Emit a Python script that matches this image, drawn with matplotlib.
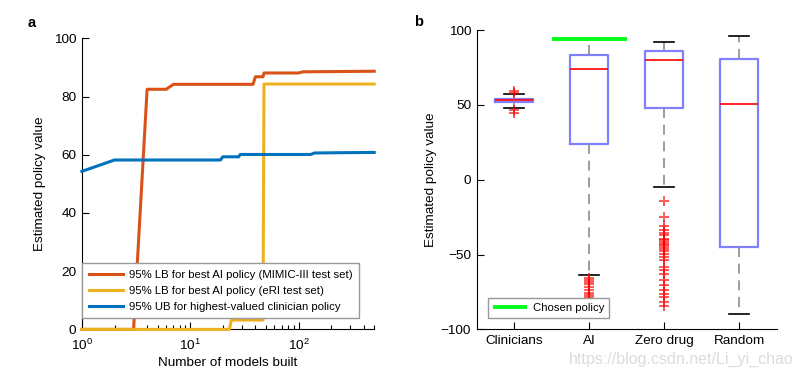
import numpy as np
import matplotlib
matplotlib.use('Agg')
import matplotlib.pyplot as plt
from matplotlib.ticker import LogLocator, NullFormatter

# ---- data ----
# panel a: estimated policy value vs number of models built
mimic_x = [1, 3, 4, 6, 7, 38, 40, 47, 48, 100, 110, 500]
mimic_y = [0, 0, 82.5, 82.5, 84.2, 84.2, 86.8, 86.8, 88.1, 88.1, 88.5, 88.7]
eri_x = [1, 23, 24, 47, 48, 500]
eri_y = [0, 0, 3.2, 3.2, 84.3, 84.3]
clin_x = [1, 2, 19, 20, 28, 29, 130, 140, 230, 500]
clin_y = [54.3, 58.2, 58.2, 59.3, 59.3, 60.1, 60.1, 60.6, 60.7, 60.8]

labels_a = ['95% LB for best AI policy (MIMIC-III test set)',
            '95% LB for best AI policy (eRI test set)',
            '95% UB for highest-valued clinician policy']

# panel b: box plot summaries
groups = ['Clinicians', 'AI', 'Zero drug', 'Random']
q1 = [51.7, 23.8, 48.1, -45.2]
med = [53.0, 74.2, 80.2, 50.5]
q3 = [54.1, 83.1, 85.9, 80.4]
whis_lo = [48.1, -63.5, -4.7, -89.5]
whis_hi = [57.5, 93.8, 92.0, 96.2]
fliers = [
    [59.2, 58.0, 46.3, 44.5],
    [-66, -67, -68.5, -70, -72, -74, -75.5, -77, -78.5],
    [-13.9, -24.6, -31.2, -33.9, -35.7, -37.2, -39.4, -40.6, -41.7, -42.8,
     -43.9, -45.0, -46.1, -47.7, -49.5, -51.7, -53.9, -58.4, -60.1, -62.8,
     -66.8, -70.6, -74.0, -76.2, -78.5, -81.8, -84.7],
    [],
]
chosen_value = 93.8

# ---- style ----
plt.rcParams['font.family'] = ['Liberation Sans', 'DejaVu Sans']
plt.rcParams['mathtext.fontset'] = 'custom'
plt.rcParams['mathtext.rm'] = 'Liberation Sans'
plt.rcParams['mathtext.it'] = 'Liberation Sans:italic'
plt.rcParams['xtick.direction'] = 'in'
plt.rcParams['ytick.direction'] = 'in'
fs = 9.7   # tick / axis label size
fs_leg = 8.2

fig = plt.figure(figsize=(8.03, 3.76), dpi=100)
ax1 = fig.add_axes([0.102, 0.124, 0.364, 0.774])
ax2 = fig.add_axes([0.5936, 0.124, 0.3736, 0.796])

# ---- panel a ----
c_red = '#D95319'
c_yel = '#EDB120'
c_blu = '#0072BD'
l1, = ax1.plot(mimic_x, mimic_y, color=c_red, linewidth=2.2, clip_on=False, zorder=3)
l2, = ax1.plot(eri_x, eri_y, color=c_yel, linewidth=2.2, clip_on=False, zorder=3)
l3, = ax1.plot(clin_x, clin_y, color=c_blu, linewidth=2.2, clip_on=False, zorder=3)

ax1.set_xscale('log')
ax1.set_xlim(1, 500)
ax1.set_ylim(0, 100)
ax1.set_yticks([0, 20, 40, 60, 80, 100])
ax1.xaxis.set_minor_locator(LogLocator(base=10, subs=np.arange(2, 10)))
ax1.xaxis.set_minor_formatter(NullFormatter())
ax1.tick_params(which='major', length=5, width=0.8, labelsize=fs, pad=4)
ax1.tick_params(axis='x', which='major', pad=6)
ax1.tick_params(which='minor', length=3, width=0.8)
for s in ['top', 'right']:
    ax1.spines[s].set_visible(False)
ax1.set_xlabel('Number of models built', fontsize=fs, labelpad=3)
ax1.set_ylabel('Estimated policy value', fontsize=fs, labelpad=6)

leg1 = ax1.legend(handles=[l1, l2, l3], labels=labels_a, loc='lower left',
                  bbox_to_anchor=(0.002, 0.038), borderaxespad=0, fontsize=fs_leg,
                  handlelength=3.0, handletextpad=0.55, labelspacing=0.55,
                  borderpad=0.55, fancybox=False, framealpha=1, edgecolor='#999999')
leg1.get_frame().set_linewidth(1.0)
leg1.set_zorder(5)

fig.text(0.040, 0.938, 'a', fontsize=10.5, fontweight='bold', ha='center', va='center')

# ---- panel b ----
stats = []
for i in range(len(groups)):
    stats.append(dict(med=med[i], q1=q1[i], q3=q3[i], whislo=whis_lo[i],
                      whishi=whis_hi[i], fliers=fliers[i], label=groups[i]))

ax2.bxp(stats, positions=[1, 2, 3, 4], widths=0.5, capwidths=0.27,
        boxprops=dict(color='#8080ff', linewidth=1.6),
        medianprops=dict(color='#ff0000', linewidth=1.2),
        whiskerprops=dict(color='#8c8c8c', linewidth=1.2, linestyle=(0, (6, 4))),
        capprops=dict(color='k', linewidth=1.2),
        flierprops=dict(marker='+', markeredgecolor='#ff0000', markersize=7,
                        markeredgewidth=1.4, alpha=0.65, linestyle='none'))

g, = ax2.plot([1.5, 2.5], [chosen_value, chosen_value], color='#00ff1a',
              linewidth=2.8, solid_capstyle='butt', zorder=4)

ax2.set_xlim(0.5, 4.5)
ax2.set_ylim(-100, 100)
ax2.set_yticks([-100, -50, 0, 50, 100])
ax2.set_xticks([1, 2, 3, 4])
ax2.set_xticklabels(groups)
ax2.tick_params(length=5, width=0.8, labelsize=fs, pad=4)
for s in ['top', 'right']:
    ax2.spines[s].set_visible(False)
ax2.set_ylabel('Estimated policy value', fontsize=fs, labelpad=3)

leg2 = ax2.legend(handles=[g], labels=['Chosen policy'], loc='lower left',
                  bbox_to_anchor=(0.037, 0.037), borderaxespad=0, fontsize=fs_leg,
                  handlelength=3.0, handletextpad=0.5, borderpad=0.45,
                  fancybox=False, framealpha=1, edgecolor='#999999')
leg2.get_frame().set_linewidth(1.0)

fig.text(0.521, 0.941, 'b', fontsize=10.5, fontweight='bold', ha='center', va='center')

# watermark present in the source image
fig.text(0.988, 0.045, 'https://blog.csdn.net/Li_yi_chao', fontsize=11.5,
         color='#dcdcdc', ha='right', va='center')

plt.savefig('out.png', dpi=100)
